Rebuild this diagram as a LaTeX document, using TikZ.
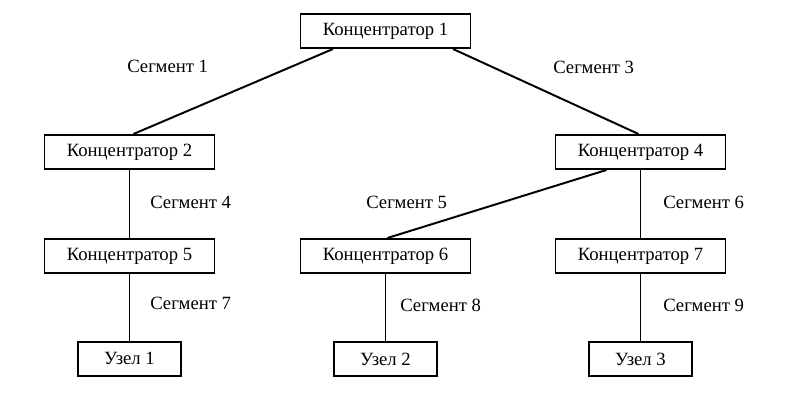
\documentclass[tikz,border=0pt]{standalone}
\usepackage{fontspec}
\setmainfont{Liberation Serif}
\usepackage{tikz}
\usetikzlibrary{positioning}

\begin{document}
\begin{tikzpicture}[
   every node/.style={font=\fontsize{13.3}{15}\selectfont},
   hub/.style={draw,rectangle,line width=1.4pt,minimum width=4.25cm,
               minimum height=0.85cm,inner sep=0pt,align=center},
   host/.style={draw,rectangle,line width=1.4pt,minimum width=2.575cm,
                minimum height=0.85cm,inner sep=0pt,align=center},
   seg/.style={anchor=west,inner sep=0pt},
   ln/.style={line width=1.4pt}
]
\useasboundingbox (0,0) rectangle (19.95,-9.975);

\node[hub] (K1) at (9.6375,-0.775) {Концентратор 1};

\node[hub,below=2.125cm of K1,xshift=-6.4cm] (K2) {Концентратор 2};
\node[hub,below=2.125cm of K1,xshift= 6.375cm] (K4) {Концентратор 4};
\draw[ln] ([xshift=-1.3125cm]K1.south) -- ([xshift=0.1cm]K2.north);
\draw[ln] ([xshift=1.6875cm]K1.south) -- ([xshift=-0.05cm]K4.north);

% left branch
\node[hub,below=1.7cm of K2] (K5) {Концентратор 5};
\node[host,below=1.675cm of K5] (U1) {Узел 1};
\draw[ln] (K2) -- (K5);
\draw[ln] (K5) -- (U1);

% right branch
\node[hub,below=1.7cm of K4,xshift=-6.375cm] (K6) {Концентратор 6};
\node[hub,below=1.7cm of K4] (K7) {Концентратор 7};
\draw[ln] ([xshift=-0.85cm]K4.south) -- ([xshift=0.05cm]K6.north);
\draw[ln] (K4) -- (K7);

\node[host,below=1.675cm of K6] (U2) {Узел 2};
\node[host,below=1.675cm of K7] (U3) {Узел 3};
\draw[ln] (K6) -- (U2);
\draw[ln] (K7) -- (U3);

% segment labels
\node[seg] (S1) at (3.175,-1.65) {Сегмент 1};
\node[seg] (S3) at (13.825,-1.675) {Сегмент 3};
\node[seg] (S4) at (3.75,-5.05) {Сегмент 4};
\node[seg] (S5) at (9.15,-5.05) {Сегмент 5};
\node[seg] (S6) at (16.575,-5.05) {Сегмент 6};
\node[seg] (S7) at (3.75,-7.575) {Сегмент 7};
\node[seg] (S8) at (10.0,-7.625) {Сегмент 8};
\node[seg] (S9) at (16.575,-7.625) {Сегмент 9};

\end{tikzpicture}
\end{document}
